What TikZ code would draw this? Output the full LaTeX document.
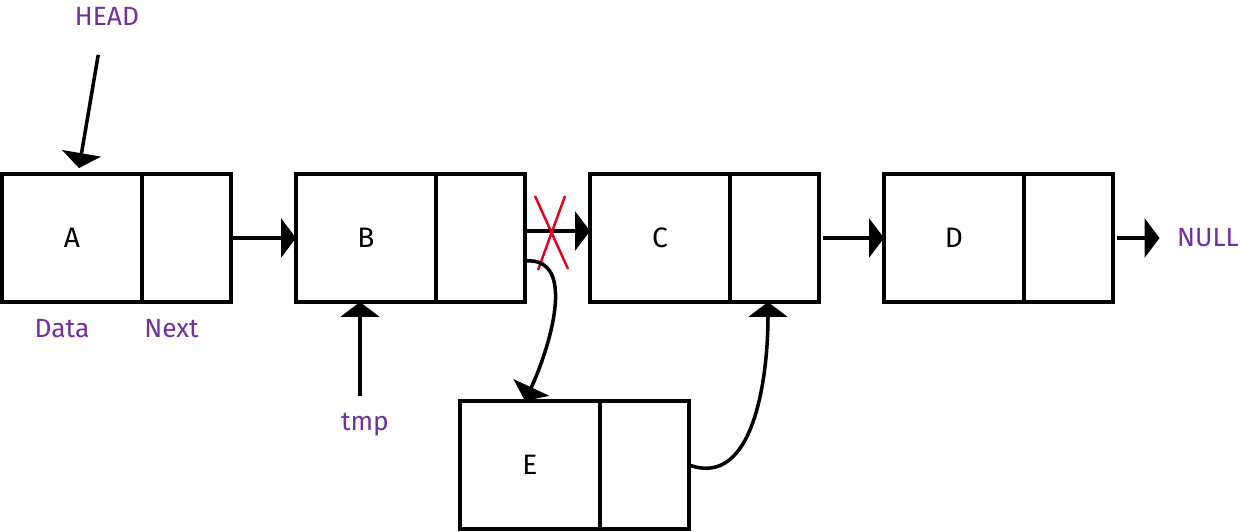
\documentclass[tikz,border=0pt]{standalone}
\usepackage{fontspec}
\setmainfont{Fira Sans}
\usepackage{tikz}
\usetikzlibrary{positioning,arrows.meta}
\definecolor{labelpurple}{RGB}{112,48,160}
\definecolor{cutred}{RGB}{228,0,27}

\begin{document}
\begin{tikzpicture}[
    line width=2pt,
    datacell/.style={draw, rectangle, outer sep=0pt,
        minimum width=2.8cm, minimum height=2.56cm,
        font=\fontsize{16}{19}\selectfont},
    nextcell/.style={draw, rectangle, outer sep=0pt,
        minimum width=1.78cm, minimum height=2.56cm},
    tag/.style={text=labelpurple, font=\fontsize{15}{18}\selectfont},
    link/.style={-{Triangle[length=0.3cm,width=0.78cm]}},
    cut/.style={draw=cutred, line width=1.4pt}
]

\useasboundingbox (0,0) rectangle (24.82,10.62);

\node[datacell] (blockA) at (1.44,5.86) {A};
\node[nextcell, right=0pt of blockA] (blockAnext) {};

\node[datacell, right=1.3cm of blockAnext] (blockB) {B};
\node[nextcell, right=0pt of blockB] (blockBnext) {};

\node[datacell, right=1.3cm of blockBnext] (blockC) {C};
\node[nextcell, right=0pt of blockC] (blockCnext) {};

\node[datacell, right=1.3cm of blockCnext] (blockD) {D};
\node[nextcell, right=0pt of blockD] (blockDnext) {};

\node[datacell] (blockE) at (10.6,1.32) {E};
\node[nextcell, right=0pt of blockE] (blockEnext) {};

\node[tag] (head) at (2.14,10.3) {HEAD};
\node[tag, below=0.2cm of blockA, xshift=-0.2cm] (data) {Data};
\node[tag, below=0.2cm of blockAnext, xshift=-0.3cm] (next) {Next};
\node[tag] (tmp) at (7.3,2.12) {tmp};
\node[tag] (null) at (24.16,5.86) {NULL};

\draw[link, shorten <=0.45cm, shorten >=0.12cm] ([xshift=-0.1cm]head.south) -- ([xshift=0.12cm]blockA.north);

\draw[link] (blockAnext) -- (blockB);
\draw[link] ([yshift=0.14cm]blockBnext.east) -- coordinate[pos=0.4] (cut) ([yshift=0.14cm]blockC.west);
\draw[link, shorten <=0.08cm] (blockCnext) -- (blockD);
\draw[link, shorten <=0.08cm, shorten >=0.2cm] (blockDnext) -- (null);

\draw[cut] ([shift={(-0.32,0.70)}]cut) -- ([shift={(0.34,-0.76)}]cut);
\draw[cut] ([shift={(0.28,0.70)}]cut) -- ([shift={(-0.26,-0.78)}]cut);

\draw[link, shorten <=0.2cm] ([xshift=-0.1cm]tmp.north) -- ([xshift=-0.1cm]tmp.north |- blockB.south);

\draw[link] ([yshift=-0.46cm]blockBnext.east) to[out=5, in=65] ([xshift=-0.1cm]blockE.north);
\draw[link] (blockEnext.east) to[out=-20, in=-90] ([xshift=-0.13cm]blockCnext.south);

\end{tikzpicture}
\end{document}
